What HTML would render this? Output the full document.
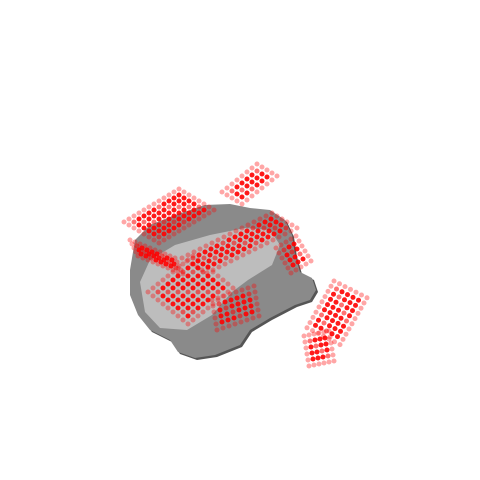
<!DOCTYPE html>
<html><head><meta charset="utf-8"><style>html,body{margin:0;padding:0;background:#fff;}svg{display:block}</style></head>
<body>
<svg id="plot" width="480" height="480" viewBox="0 0 480 480" xmlns="http://www.w3.org/2000/svg">
<rect width="480" height="480" fill="#fff"/>
<g>
<polygon fill="#555" points="132,272 137,242 152,226 177,216 207,206 232,206 252,210 272,212 287,222 294,237 297,257 302,274 314,280 318,292 312,302 297,307 272,320 252,332 242,347 217,357 197,360 180,354 172,342 152,332 140,317 132,297"/>
<polygon fill="#8a8a8a" points="130,270 135,240 150,225 175,215 205,205 230,204 250,208 270,210 285,220 292,235 295,255 300,272 312,278 316,290 310,300 295,305 270,318 250,330 240,345 215,355 195,358 178,352 170,340 150,330 138,315 130,295"/>
<polygon fill="#bdbdbd" points="140,282 150,260 175,245 210,235 245,228 270,230 280,245 272,265 248,280 232,292 212,315 187,330 160,328 145,312"/>
</g>
<g id="dots"></g>
</svg>
<script>
// cluster grid definitions: origin x, origin y, step-u (dx,dy), step-v (dx,dy), counts
const clusterOrigin = [[124,222],[222,192],[182,258],[148,292],[334,281],[276,248],[212,300],[130,240],[304,336]];
const clusterU = [[5,-3],[5,-4],[6,-3],[5,-4],[5.5,2.8],[5,-3],[6,-2],[5,2],[5,-1]];
const clusterV = [[5,3],[5,3],[5,3],[5,4],[-3,5.2],[3,5],[1,6],[2,4],[1,6]];
const clusterNU = [12,8,16,10,7,5,8,10,6];
const clusterNV = [8,5,6,9,10,6,6,5,6];
const g = document.getElementById('dots');
const ns = 'http://www.w3.org/2000/svg';
for (let c = 0; c < clusterOrigin.length; c++) {
  const [ox, oy] = clusterOrigin[c];
  const [ux, uy] = clusterU[c];
  const [vx, vy] = clusterV[c];
  for (let i = 0; i < clusterNU[c]; i++) {
    for (let j = 0; j < clusterNV[c]; j++) {
      const el = document.createElementNS(ns, 'circle');
      
      
      el.setAttribute('cx', ox + i * ux + j * vx);
      el.setAttribute('cy', oy + i * uy + j * vy);
      el.setAttribute('r', 2.5);
      const edge = Math.min(i, j, clusterNU[c] - 1 - i, clusterNV[c] - 1 - j);
      const op = edge === 0 ? 0.35 : (((i * 7 + j * 3) % 5 === 0) ? 0.55 : 0.9);
      el.setAttribute('fill', 'red');
      el.setAttribute('fill-opacity', op);
      g.appendChild(el);
    }
  }
}
</script>
</body></html>
